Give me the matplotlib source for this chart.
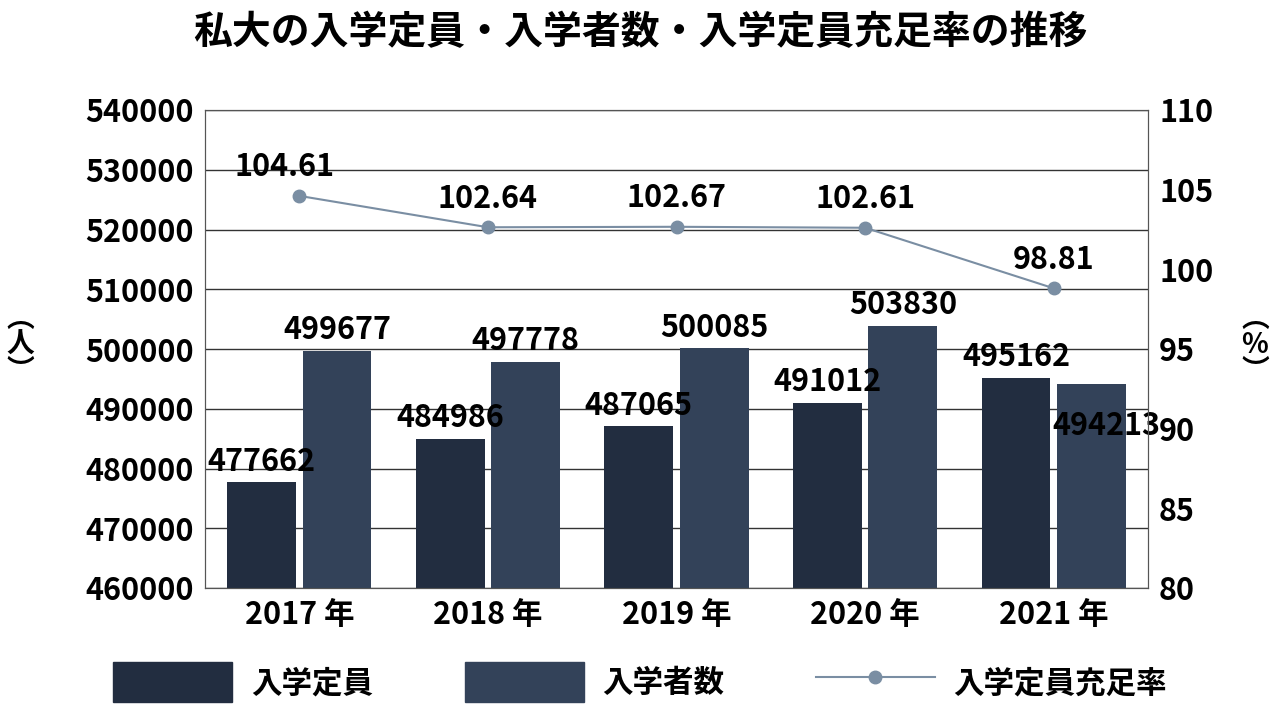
import matplotlib
matplotlib.use("Agg")
import matplotlib.pyplot as plt
import numpy as np
from matplotlib.lines import Line2D
from matplotlib.patches import Patch

plt.rcParams["font.family"] = "Noto Sans CJK JP"
plt.rcParams["font.weight"] = "bold"

years = ["2017 年", "2018 年", "2019 年", "2020 年", "2021 年"]
capacity = [477662, 484986, 487065, 491012, 495162]
enrolled = [499677, 497778, 500085, 503830, 494213]
rate = [104.61, 102.64, 102.67, 102.61, 98.81]

c1, c2, c3 = "#222d40", "#334259", "#7a8ea3"
fs = 22
fig = plt.figure(figsize=(12.8, 7.2), dpi=100)
ax = fig.add_axes([205/1280, 1-588/720, 943/1280, 478/720])
x = np.arange(len(years))
w = 0.365
off = 0.2
ax.bar(x - off, capacity, w, color=c1, zorder=3)
ax.bar(x + off, enrolled, w, color=c2, zorder=3)
ax.set_ylim(460000, 540000)
ax.set_xlim(-0.5, 4.5)
ax.set_yticks(range(460000, 540001, 10000))
ax.grid(axis="y", color="#333333", lw=1, zorder=0)
ax.set_xticks(x)
ax.set_xticklabels(years, fontsize=fs, fontweight="bold")
ax.tick_params(length=0, labelsize=fs, pad=8)
for s in ax.spines.values():
    s.set_color("#555555")
for i in range(5):
    ax.text(x[i]-off, capacity[i]+800, str(capacity[i]), ha="center", va="bottom", fontsize=fs, fontweight="bold", zorder=5)
    if i < 4:
        ax.text(x[i]+off, enrolled[i]+800, str(enrolled[i]), ha="center", va="bottom", fontsize=fs, fontweight="bold", zorder=5)
    else:
        ax.text(x[i]+off+0.08, enrolled[i]-4500, str(enrolled[i]), ha="center", va="top", fontsize=fs, fontweight="bold", zorder=5)

ax2 = ax.twinx()
ax2.set_ylim(80, 110)
ax2.set_yticks(range(80, 111, 5))
ax2.tick_params(length=0, labelsize=fs, pad=8)
ax2.plot(x, rate, color=c3, marker="o", ms=9, lw=1.5, zorder=4)
for i in range(5):
    ax2.text(x[i]-0.08 if i == 0 else x[i], rate[i]+0.8, f"{rate[i]:.2f}", ha="center", va="bottom", fontsize=fs, fontweight="bold")
for s in ax2.spines.values():
    s.set_color("#555555")

fig.text(0.5, 0.955, "私大の入学定員・入学者数・入学定員充足率の推移", ha="center", va="center", fontsize=28, fontweight="bold")
fig.text(20/1280, 1-345/720, "︵\n人\n︶", ha="center", va="center", fontsize=20, linespacing=0.9)
fig.text(1255/1280, 1-345/720, "︵\n%\n︶", ha="center", va="center", fontsize=20, linespacing=0.9)

handles = [Patch(color=c1), Patch(color=c2), Line2D([], [], color=c3, marker="o", ms=9, lw=1.5)]
fig.legend(handles, ["入学定員", "入学者数", "入学定員充足率"], loc="center", bbox_to_anchor=(0.5, 1-682/720),
           ncol=3, frameon=False, fontsize=fs, handlelength=3.9, handleheight=1.6, columnspacing=3.0, handletextpad=0.6)
fig.savefig("out.png", dpi=100)
